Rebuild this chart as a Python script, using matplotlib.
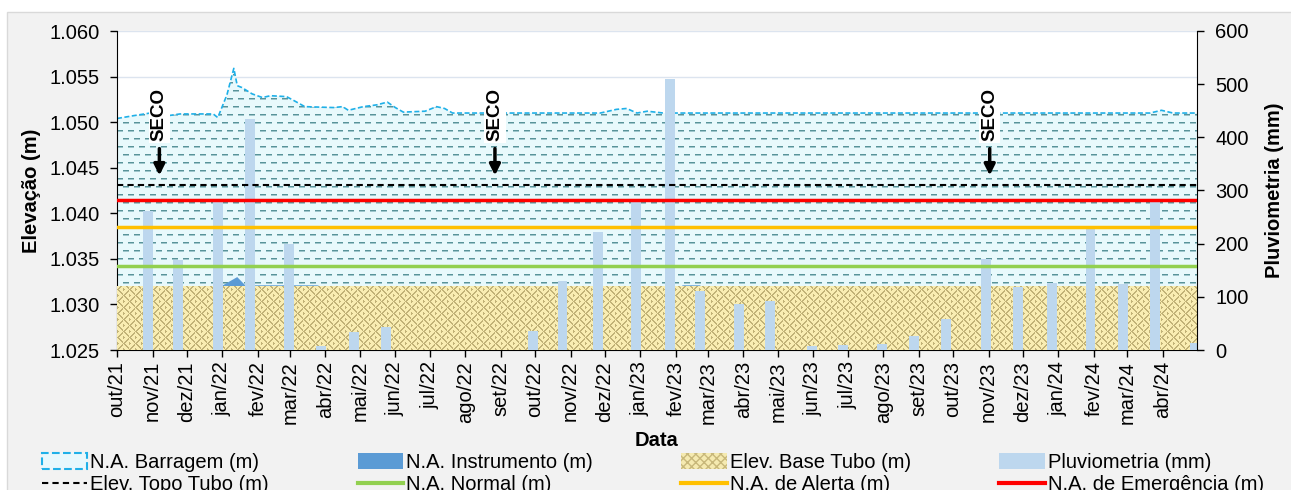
import numpy as np
import matplotlib
matplotlib.use('Agg')
from matplotlib import pyplot as plt
import matplotlib.dates as mdates
from matplotlib.patches import Patch, Rectangle
from matplotlib.lines import Line2D

plt.rcParams['font.family'] = ['Liberation Sans', 'DejaVu Sans']

# N.A. Barragem (m)
barragem_datas = ['2021-10-01', '2021-10-15', '2021-10-30', '2021-11-14', '2021-11-25', '2021-12-24',
                  '2021-12-28', '2022-01-05', '2022-01-11', '2022-01-14', '2022-01-18', '2022-01-27',
                  '2022-02-05', '2022-02-12', '2022-02-26', '2022-03-04', '2022-03-14', '2022-04-08',
                  '2022-04-16', '2022-04-21', '2022-05-04', '2022-05-16', '2022-05-25', '2022-06-01',
                  '2022-06-08', '2022-06-27', '2022-07-07', '2022-07-14', '2022-07-21', '2022-11-27',
                  '2022-12-11', '2022-12-20', '2022-12-29', '2023-01-07', '2023-01-21', '2024-03-21',
                  '2024-03-31', '2024-04-10', '2024-05-01']
barragem_valores = [1050.4, 1050.7, 1051.0, 1050.7, 1050.9, 1050.9, 1050.5, 1053.0, 1055.9, 1054.0,
                    1053.8, 1053.1, 1052.7, 1052.9, 1052.8, 1052.4, 1051.7, 1051.6, 1051.7, 1051.3,
                    1051.7, 1051.9, 1052.2, 1051.6, 1051.1, 1051.2, 1051.7, 1051.5, 1051.0, 1051.0,
                    1051.4, 1051.5, 1051.0, 1051.2, 1051.0, 1051.0, 1051.3, 1051.0, 1051.0]

# N.A. Instrumento (m)
instrumento_datas = ['2021-10-01', '2021-12-31', '2022-01-14', '2022-01-21', '2022-03-25', '2022-03-27',
                     '2023-02-06', '2023-02-07', '2023-02-22', '2023-02-23', '2024-05-01']
instrumento_valores = [1032.0, 1032.0, 1033.0, 1032.1, 1032.1, 1032.0,
                       1032.0, 1032.1, 1032.1, 1032.0, 1032.0]

# Pluviometria (mm)
pluvio_datas = ['2021-10-28', '2021-11-23', '2021-12-28', '2022-01-25', '2022-02-28', '2022-03-28',
                '2022-04-26', '2022-05-24', '2022-06-25', '2022-07-25', '2022-08-25', '2022-09-29',
                '2022-10-25', '2022-11-25', '2022-12-28', '2023-01-27', '2023-02-22', '2023-03-28',
                '2023-04-24', '2023-05-31', '2023-06-27', '2023-07-31', '2023-08-28', '2023-09-25',
                '2023-10-30', '2023-11-27', '2023-12-26', '2024-01-29', '2024-02-26', '2024-03-25',
                '2024-04-29']
pluvio_valores = [262, 170, 281, 435, 200, 8, 33, 43, 0, 0, 0, 36, 130, 222, 281,
                  510, 111, 86, 92, 8, 9, 11, 27, 58, 172, 119, 126, 228, 124, 282, 14]

base_tubo = 1032.0
topo_tubo = 1043.1
na_normal = 1034.2
na_alerta = 1038.5
na_emergencia = 1041.5

seco_datas = ['2021-11-07', '2022-08-27', '2023-11-02']

data_ini = '2021-10-01'
data_fim = '2024-05-01'
meses = ['jan', 'fev', 'mar', 'abr', 'mai', 'jun', 'jul', 'ago', 'set', 'out', 'nov', 'dez']


def d(s):
    return mdates.datestr2num(s)


def textura_agua(h, w):
    tex = np.ones((h, w, 3)) * np.array([0.91, 0.98, 0.99])
    yy, xx = np.mgrid[0:h, 0:w]
    off = np.where((yy // 8) % 2 == 0, 0, 5)
    linha = (yy % 8)
    dash = ((xx + off) % 11) < 6
    tex[(linha == 3) & dash] = [0.35, 0.58, 0.60]
    tex[(linha == 4) & dash] = [0.62, 0.78, 0.80]
    return tex


def textura_tubo(h, w):
    tex = np.ones((h, w, 3)) * np.array([0.98, 0.93, 0.70])
    yy, xx = np.mgrid[0:h, 0:w]
    bloco = ((xx // 6) + (yy // 6)) % 2
    a = ((xx + yy) // 2) % 3 == 0
    b = ((xx - yy) // 2) % 3 == 0
    escuro = np.where(bloco == 0, a, b)
    tex[escuro] = [0.76, 0.70, 0.47]
    return tex


W, H = 1291, 490
fig = plt.figure(figsize=(W / 100, H / 100), dpi=100, facecolor='white')
fig.patches.append(Rectangle((7 / W, -0.1), 1.1, (H - 12) / H + 0.1, transform=fig.transFigure,
                             facecolor='#f2f2f2', edgecolor='#d9d9d9', lw=1, zorder=0))

rect = [117 / W, 140 / H, 1080 / W, 319 / H]
ax = fig.add_axes(rect)
ax.set_facecolor('white')
ax.set_zorder(1)
ax2 = ax.twinx()
ax2.set_zorder(2)
ax2.patch.set_visible(False)
ax3 = fig.add_axes(rect, sharex=ax, sharey=ax)
ax3.set_zorder(3)
ax3.axis('off')

x0, x1 = d(data_ini), d(data_fim)
y0, y1 = 1025, 1060

# barragem area with dash texture
xb = [d(s) for s in barragem_datas]
fb = ax.fill_between(xb, y0, barragem_valores, facecolor='none', edgecolor='none')
im = ax.imshow(textura_agua(319, 1080), extent=[x0, x1, y0, y1], aspect='auto',
               interpolation='nearest', zorder=1)
im.set_clip_path(fb.get_paths()[0], ax.transData)
ax.plot(xb, barragem_valores, color='#1fb0e8', lw=1.2, ls=(0, (3, 1.5)), zorder=2)

# instrumento
xi = [d(s) for s in instrumento_datas]
ax.fill_between(xi, y0, instrumento_valores, facecolor='#5b9bd5', edgecolor='none', lw=0, zorder=3)

# base tubo with weave texture
ft = ax.fill_between([x0, x1], y0, base_tubo, facecolor='none', edgecolor='none')
im2 = ax.imshow(textura_tubo(319, 1080), extent=[x0, x1, y0, y1], aspect='auto',
                interpolation='nearest', zorder=4)
im2.set_clip_path(ft.get_paths()[0], ax.transData)

ax.set_xlim(x0, x1)
ax.set_ylim(y0, y1)
ax.set_yticks(np.arange(1025, 1061, 5))
ax.set_yticklabels([f'{v:,.0f}'.replace(',', '.') for v in np.arange(1025, 1061, 5)])
ax.yaxis.grid(True, color='#dce4ef', lw=1, zorder=0)
ax.set_axisbelow(True)

ticks = []
labels = []
ano, mes = 2021, 10
while (ano, mes) <= (2024, 4):
    ticks.append(d(f'{ano}-{mes:02d}-01'))
    labels.append(f'{meses[mes - 1]}/{ano % 100:02d}')
    mes += 1
    if mes > 12:
        mes = 1
        ano += 1
ax.set_xticks(ticks)
ax.set_xticklabels(labels, rotation=90)

for s in ['top', 'right']:
    ax.spines[s].set_visible(False)
for s in ['left', 'bottom']:
    ax.spines[s].set_color('black')
ax.tick_params(axis='both', direction='out', length=5, width=1, labelsize=14.5, color='black')
ax.tick_params(axis='y', pad=7.5)
ax.tick_params(axis='x', labelsize=14.5, pad=3)
ax.set_ylabel('Elevação (m)', fontsize=14.5, fontweight='bold', labelpad=6)
ax.set_xlabel('Data', fontsize=14.5, fontweight='bold', labelpad=5)

# pluviometria bars
xp = [d(s) for s in pluvio_datas]
ax2.bar(xp, pluvio_valores, width=8.7, color='#bdd7ee', zorder=2)
ax2.set_ylim(0, 600)
ax2.set_yticks(range(0, 601, 100))
for s in ['top', 'left', 'bottom']:
    ax2.spines[s].set_visible(False)
ax2.spines['right'].set_color('black')
ax2.tick_params(axis='y', direction='out', length=5, width=1, labelsize=14.5, color='black', pad=8)
ax2.set_ylabel('Pluviometria (mm)', fontsize=14.5, fontweight='bold', labelpad=12)

# reference lines on top
ax3.axhline(topo_tubo, color='black', lw=1.5, ls=(0, (3, 2)))
ax3.axhline(na_emergencia, color='#ff0000', lw=2.5)
ax3.axhline(na_alerta, color='#ffc000', lw=2.5)
ax3.axhline(na_normal, color='#92d050', lw=2.5)

for s in seco_datas:
    xs = d(s)
    ax3.annotate('', xy=(xs, 1043.85), xytext=(xs, 1047.4),
                 arrowprops=dict(arrowstyle='-|>', color='black', lw=2.5, mutation_scale=16))
    ax3.text(xs, 1050.8, 'SECO', rotation=90, ha='center', va='center', fontsize=13.5,
             fontweight='bold', bbox=dict(facecolor='white', edgecolor='none', pad=1.5))

ax3.set_xlim(x0, x1)
ax3.set_ylim(y0, y1)

handles = [
    Patch(facecolor='#e8f8fc', edgecolor='#1fb0e8', linestyle='--', lw=1.5),
    Line2D([], [], color='black', lw=1.5, ls=(0, (3, 2))),
    Patch(facecolor='#5b9bd5'),
    Line2D([], [], color='#92d050', lw=3),
    Patch(facecolor='#f5eab0', edgecolor='#c8b87a', hatch='xxxx', lw=0),
    Line2D([], [], color='#ffc000', lw=3),
    Patch(facecolor='#bdd7ee'),
    Line2D([], [], color='#ff0000', lw=3),
]
rotulos = ['N.A. Barragem (m)', 'Elev. Topo Tubo (m)', 'N.A. Instrumento (m)', 'N.A. Normal (m)',
           'Elev. Base Tubo (m)', 'N.A. de Alerta (m)', 'Pluviometria (mm)', 'N.A. de Emergência (m)']
fig.legend(handles, rotulos, ncol=4, loc='upper left', bbox_to_anchor=(42 / W, 1 - 453 / H),
           frameon=False, fontsize=14.5, handlelength=2.25, handleheight=0.8, handletextpad=0.15,
           columnspacing=4.4, labelspacing=0.15, borderaxespad=0, borderpad=0)

fig.savefig('out.png', dpi=100, facecolor=fig.get_facecolor())
